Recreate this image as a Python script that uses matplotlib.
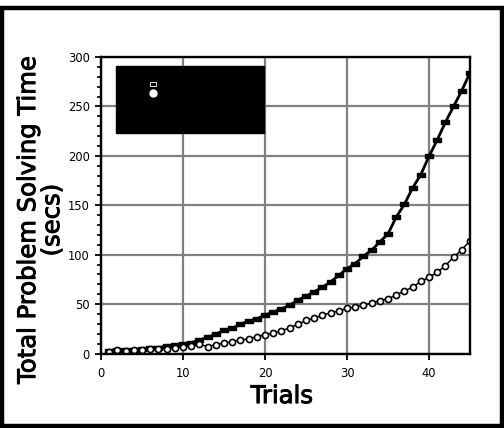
import matplotlib
matplotlib.use("Agg")
import matplotlib.pyplot as plt
import matplotlib.patheffects as pe
from matplotlib.lines import Line2D
from matplotlib.patches import Rectangle
import numpy as np

# trial numbers and total solving time (secs) for the two groups
trials = list(range(1, 46))
time_squares = [3, 3.5, 4, 4, 4.5, 5.2, 6, 7.5, 9, 10,
                11, 13.5, 16.5, 19.5, 23.5, 25.5, 29.5, 33, 35, 39,
                42, 45, 49, 54, 58, 62.4, 67, 72.5, 79, 86,
                91, 98.5, 104.5, 113, 121, 138, 151, 167.5, 181, 199.5,
                216, 234, 250, 266, 284]
time_circles = [2, 3.5, 3, 3.5, 4, 5, 5, 5, 6, 7,
                8, 9.5, 7, 9, 10.5, 12, 13.5, 15, 17, 19,
                21, 23, 26, 29.5, 33.5, 35.5, 39, 41, 43, 45.6,
                47.3, 49, 51, 53.5, 55.5, 59, 63.4, 67, 73, 77,
                82, 89, 97.5, 105, 114]
series_labels = ["Group 1", "Group 2"]

x_ticks = [0, 10, 20, 30, 40]
y_ticks = [0, 50, 100, 150, 200, 250, 300]

# flat rectangle marker
rect_marker = [(-1, -0.6), (1, -0.6), (1, 0.6), (-1, 0.6), (-1, -0.6)]

fig = plt.figure(figsize=(5.04, 4.28), dpi=100)
ax = fig.add_axes([0.2004, 0.174, 0.7321, 0.6928])

ax.plot(trials, time_squares, color='black', lw=2.0, marker=rect_marker,
        ms=5.5, mfc='black', mec='black', zorder=4)
ax.plot(trials, time_circles, color='black', lw=1.1, marker='o',
        ms=4.4, mfc='white', mec='black', mew=1.2, zorder=4)

ax.set_xlim(0, 45)
ax.set_ylim(0, 300)
ax.set_xticks(x_ticks)
ax.set_yticks(y_ticks)
ax.set_yticks(np.arange(0, 301, 10), minor=True)
ax.tick_params(axis='both', labelsize=8.3, width=1.3, length=4, direction='out')
ax.tick_params(axis='x', pad=6)
ax.tick_params(axis='y', pad=4)
ax.tick_params(axis='y', which='minor', width=1.2, length=3)
ax.grid(True, which='major', color='#808080', lw=1.6)
ax.set_axisbelow(True)
for sp in ax.spines.values():
    sp.set_linewidth(1.7)
    sp.set_zorder(5)

heavy = [pe.withStroke(linewidth=0.7, foreground='black')]
ax.set_xlabel("Trials", fontsize=17.5, path_effects=heavy)
ax.set_ylabel("Total Problem Solving Time\n(secs)", fontsize=17.5, linespacing=1.0,
              path_effects=heavy)
ax.xaxis.set_label_coords(0.49, -0.103)
ax.yaxis.set_label_coords(-0.1, 0.45)

# black legend box
ax.add_patch(Rectangle((0.0407, 0.7437), 0.401, 0.2259, transform=ax.transAxes,
                       facecolor='black', edgecolor='black', zorder=6))
handles = [Line2D([], [], color='black', marker=rect_marker, ms=4, mfc='black', mec='white', mew=0.6),
           Line2D([], [], color='black', marker='o', ms=5, mfc='white', mec='white')]
leg = ax.legend(handles, series_labels, loc='upper left', bbox_to_anchor=(0.130, 0.924),
                frameon=False, fontsize=6, handlelength=1.0, handletextpad=0.4,
                borderpad=0, borderaxespad=0, labelspacing=0.1)
leg.set_zorder(7)

# thick frame around the whole figure
fig.patches.append(Rectangle((2 / 504, 2.5 / 428), 500 / 504, 417.5 / 428,
                             transform=fig.transFigure, fill=False,
                             edgecolor='black', lw=3.2))

fig.savefig("out.png", dpi=100)
